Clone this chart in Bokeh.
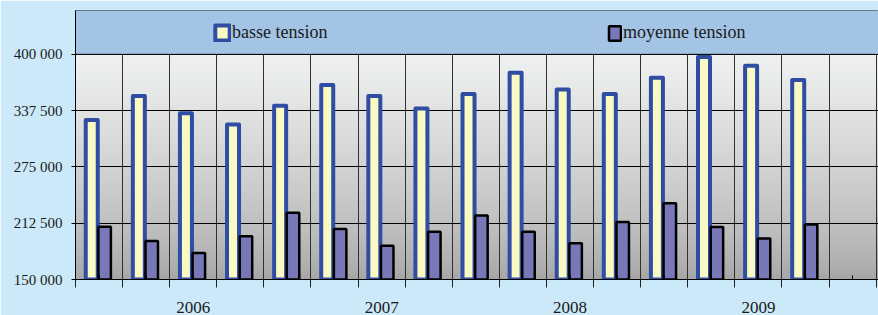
import numpy as np
from bokeh.plotting import figure
from bokeh.models import FixedTicker, Legend, LegendItem, Span, Range1d
from bokeh.embed import file_html
from bokeh.resources import INLINE

# ---- data ----
years = ["2006", "2007", "2008", "2009"]
basse_tension = [327200, 353800, 334500, 322000,
                 343000, 365900, 353800, 340000,
                 356000, 379500, 361000, 356000,
                 374000, 397200, 387300, 371500]
moyenne_tension = [208600, 192800, 179500, 197900,
                   224100, 206100, 187600, 203100,
                   221100, 203100, 190200, 213800,
                   234800, 208300, 195400, 211200]
y_ticks = [150000, 212500, 275000, 337500, 400000]
y_tick_labels = ["150 000", "212 500", "275 000", "337 500", "400 000"]
n_slots = 17            # 16 quarters + one empty slot at the end
year_slot = [2, 6, 10, 14]

# ---- styles ----
BG = "#CCE9F9"
BAND = "#A4C4E6"
BLUE = "#2E4DA3"
YELLOW = "#FAF8C3"
PURPLE = "#7878B9"
FONT = "'Liberation Serif', serif"

x_end = 17.05
y_start, y_end = 150000, 448700

p = figure(width=878, height=315, x_range=Range1d(0, x_end), y_range=Range1d(y_start, y_end),
           output_backend="svg", toolbar_location=None,
           min_border_left=75, min_border_right=0, min_border_top=10, min_border_bottom=35)
p.title.text = ""
p.border_fill_color = BG
p.background_fill_color = "#D0D0D0"
p.outline_line_color = "#55606B"
p.outline_line_width = 1

# gradient plot area (decoration)
N = 256
t = np.linspace(0, 1, N)            # 0 bottom -> 1 top
g = 166 + (240 - 166) * (t ** 0.75)
img = np.empty((N, 2), dtype=np.uint32)
view = img.view(dtype=np.uint8).reshape((N, 2, 4))
view[:, :, 0] = g[:, None].astype(np.uint8)
view[:, :, 1] = (g[:, None] + t[:, None] * 1).astype(np.uint8)
view[:, :, 2] = (g[:, None] + t[:, None] * 1).astype(np.uint8)
view[:, :, 3] = 255
p.image_rgba(image=[img], x=0, y=y_start, dw=x_end, dh=y_ticks[-1] - y_start, level="image")

# legend band above 400 000
p.quad(left=[0], right=[x_end], bottom=[y_ticks[-1]], top=[y_end],
       fill_color=BAND, line_alpha=0)

# grids
boundaries = list(range(n_slots + 1))
centers = [k + 0.5 for k in range(n_slots)]
p.xgrid.ticker = FixedTicker(ticks=boundaries)
p.xgrid.grid_line_color = "#303030"
p.xgrid.grid_line_width = 1
p.ygrid.ticker = FixedTicker(ticks=y_ticks)
p.ygrid.grid_line_color = "black"
p.ygrid.grid_line_width = 1

# bars
pos = np.arange(len(basse_tension)) + 0.5
rb = p.vbar(x=pos - 0.155, top=basse_tension, bottom=y_start, width=0.255,
            fill_color=YELLOW, line_color=BLUE, line_width=4, line_join="round")
rm = p.vbar(x=pos + 0.119, top=moyenne_tension, bottom=y_start, width=0.265,
            fill_color=PURPLE, line_color="black", line_width=2.5)

p.add_layout(Span(location=y_ticks[-1], dimension="width", line_color="black", line_width=1))

# legend (two separately placed items)
common = dict(padding=0, margin=0, spacing=0, border_line_alpha=0, background_fill_alpha=0,
              label_standoff=1, label_text_font=FONT, label_text_font_size="18px",
              label_text_color="#1A1A1A")
leg1 = Legend(items=[LegendItem(label="basse tension", renderers=[rb])],
              location=(138, 236), glyph_width=18, glyph_height=19, **common)
leg2 = Legend(items=[LegendItem(label="moyenne tension", renderers=[rm])],
              location=(532, 236), glyph_width=15, glyph_height=18, **common)
p.add_layout(leg1)
p.add_layout(leg2)

# y axis
p.yaxis.ticker = FixedTicker(ticks=y_ticks)
p.yaxis.major_label_overrides = {v: s for v, s in zip(y_ticks, y_tick_labels)}
p.yaxis.major_tick_out = 4
p.yaxis.major_tick_in = 0
p.yaxis.minor_tick_line_color = None
p.yaxis.major_label_standoff = 9
p.yaxis.major_label_text_font = FONT
p.yaxis.major_label_text_font_size = "15px"
p.yaxis.major_label_text_color = "#1A1A1A"
p.yaxis.axis_line_color = "black"
p.yaxis.major_tick_line_color = "black"

# x axis: labels at year slots, boundary ticks as minor ticks
p.xaxis.ticker = FixedTicker(ticks=centers, minor_ticks=boundaries)
labels = {c: "" for c in centers}
for s, yv in zip(year_slot, years):
    labels[s + 0.5] = yv
p.xaxis.major_label_overrides = labels
p.xaxis.major_tick_in = 4
p.xaxis.major_tick_out = 0
p.xaxis.minor_tick_in = 0
p.xaxis.minor_tick_out = 8
p.xaxis.minor_tick_line_color = "#222222"
p.xaxis.major_tick_line_color = "black"
p.xaxis.axis_line_color = "black"
p.xaxis.major_label_standoff = 14
p.xaxis.major_label_text_font = FONT
p.xaxis.major_label_text_font_size = "17px"
p.xaxis.major_label_text_color = "#1A1A1A"

open("out.html", "w").write(file_html(p, INLINE))
